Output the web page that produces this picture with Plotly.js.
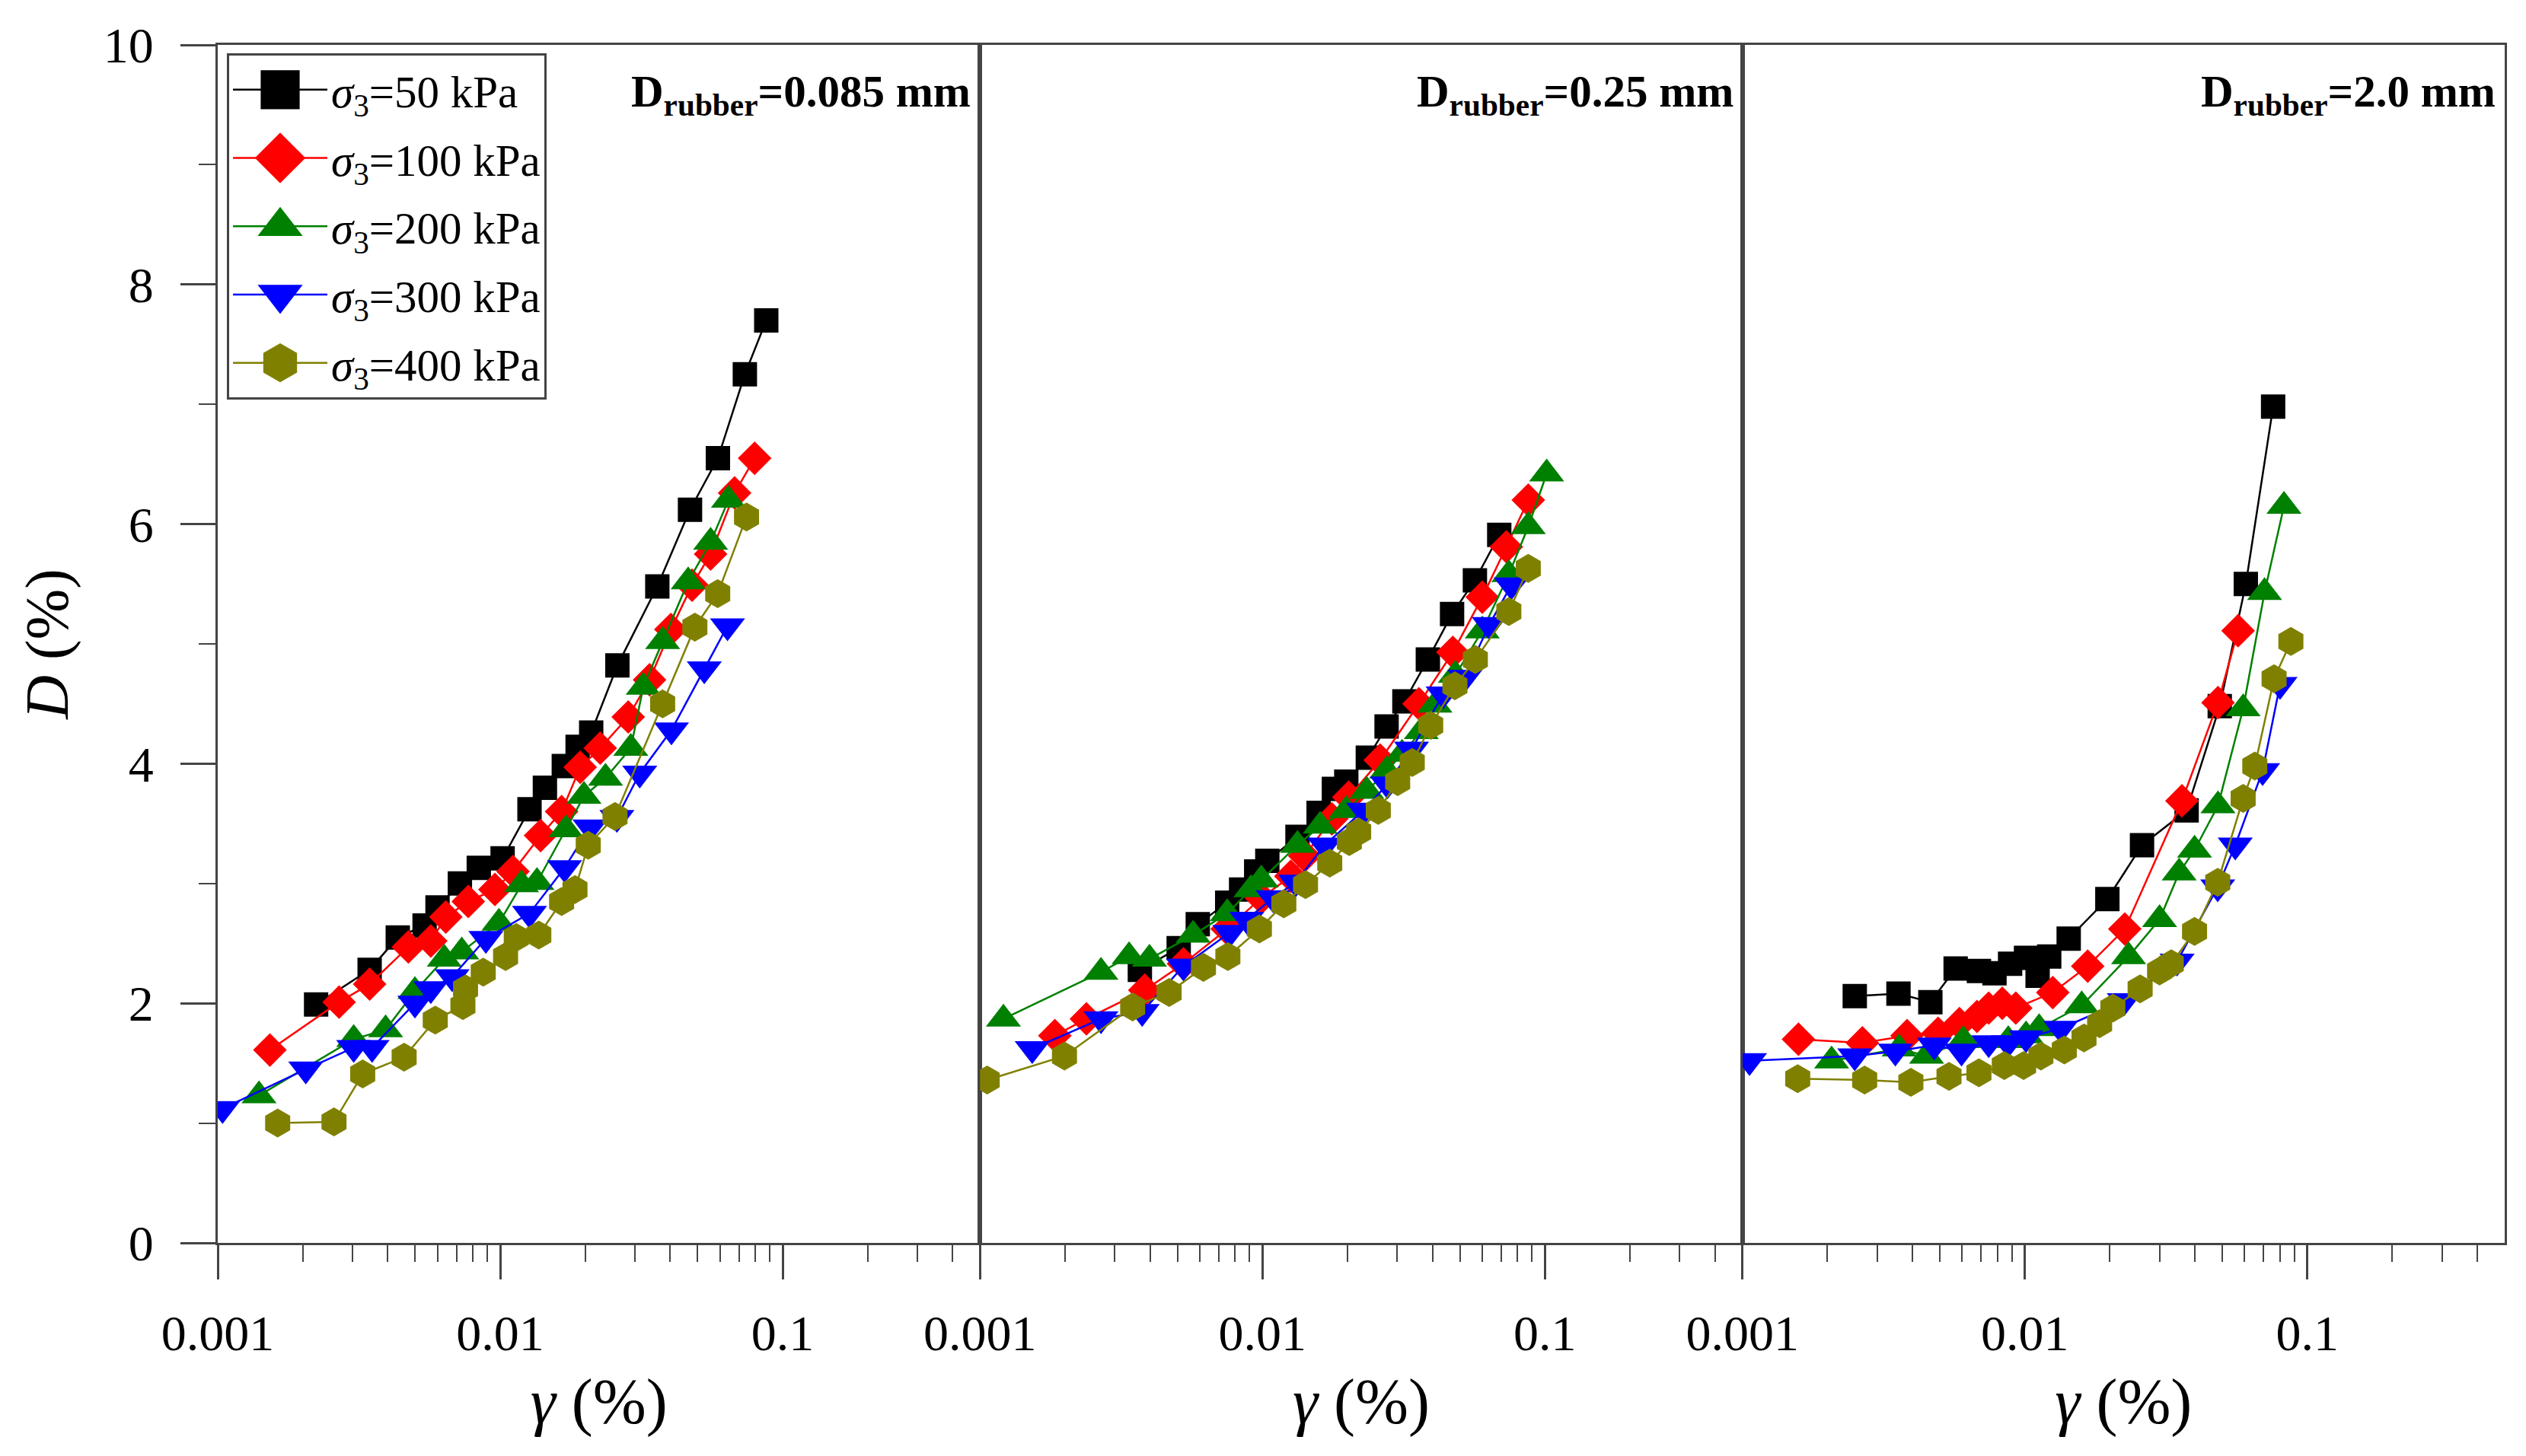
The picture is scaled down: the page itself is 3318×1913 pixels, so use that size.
<!DOCTYPE html>
<html>
<head>
<meta charset="utf-8">
<script src="https://cdn.plot.ly/plotly-3.0.1.min.js"></script>
<style>
  html, body { margin: 0; padding: 0; background: #fff; }
  #chart { width: 3318px; height: 1913px; }
</style>
</head>
<body>
<div id="chart"></div>
<script>
// ---- data: shear strain gamma (%) vs damping ratio D (%) ----
// panel A: D_rubber = 0.085 mm
var g50A  = [0.00223, 0.00345, 0.00434, 0.0054, 0.0060, 0.0072, 0.0084, 0.0102, 0.0127, 0.0144, 0.0168, 0.0188, 0.021, 0.026, 0.036, 0.047, 0.059, 0.0735, 0.0875];
var d50A  = [1.99, 2.28, 2.55, 2.65, 2.80, 3.00, 3.13, 3.21, 3.62, 3.80, 3.98, 4.14, 4.26, 4.82, 5.48, 6.12, 6.55, 7.25, 7.70];
var g100A = [0.00153, 0.00269, 0.00345, 0.00473, 0.00568, 0.00642, 0.00771, 0.00958, 0.0111, 0.0139, 0.0165, 0.0192, 0.0226, 0.0284, 0.0338, 0.0402, 0.0478, 0.0556, 0.0676, 0.0796];
var d100A = [1.61, 2.01, 2.16, 2.47, 2.52, 2.72, 2.85, 2.95, 3.10, 3.40, 3.60, 3.97, 4.13, 4.39, 4.70, 5.12, 5.49, 5.75, 6.26, 6.55];
var g200A = [0.0014, 0.00303, 0.00393, 0.00499, 0.00634, 0.00731, 0.0099, 0.0119, 0.0135, 0.0171, 0.0198, 0.0236, 0.029, 0.0321, 0.0376, 0.0463, 0.0556, 0.0643];
var d200A = [1.23, 1.70, 1.78, 2.10, 2.37, 2.43, 2.67, 2.99, 3.01, 3.45, 3.73, 3.88, 4.13, 4.64, 5.02, 5.52, 5.85, 6.20];
var g300A = [0.00104, 0.00205, 0.00303, 0.00352, 0.00499, 0.00568, 0.00676, 0.0089, 0.0127, 0.0169, 0.0208, 0.0259, 0.0312, 0.0404, 0.0528, 0.0638];
var d300A = [1.12, 1.45, 1.63, 1.63, 2.00, 2.12, 2.22, 2.54, 2.75, 3.13, 3.47, 3.55, 3.92, 4.28, 4.79, 5.15];
var g400A = [0.00163, 0.00258, 0.00326, 0.00457, 0.00589, 0.00738, 0.00754, 0.00871, 0.01045, 0.0114, 0.0137, 0.0165, 0.0184, 0.0205, 0.0255, 0.0376, 0.0489, 0.0589, 0.0745];
var d400A = [1.00, 1.01, 1.41, 1.55, 1.86, 1.98, 2.12, 2.26, 2.39, 2.55, 2.57, 2.85, 2.95, 3.32, 3.56, 4.50, 5.14, 5.42, 6.06];

// panel B: D_rubber = 0.25 mm
var g50B  = [0.00368, 0.00505, 0.0059, 0.0075, 0.0084, 0.0095, 0.0104, 0.0133, 0.0158, 0.0179, 0.0198, 0.0236, 0.0275, 0.0318, 0.0385, 0.0469, 0.0565, 0.0689];
var d50B  = [2.28, 2.46, 2.66, 2.84, 2.95, 3.10, 3.19, 3.39, 3.59, 3.79, 3.85, 4.05, 4.31, 4.52, 4.87, 5.25, 5.53, 5.91];
var g100B = [0.00184, 0.00238, 0.00383, 0.00525, 0.0075, 0.0099, 0.0126, 0.0141, 0.0176, 0.0202, 0.0261, 0.0358, 0.0472, 0.0600, 0.0730, 0.0873];
var d100B = [1.73, 1.87, 2.11, 2.33, 2.62, 2.88, 3.06, 3.23, 3.54, 3.72, 4.03, 4.50, 4.93, 5.39, 5.81, 6.20];
var g200B = [0.00121, 0.00268, 0.00337, 0.00398, 0.00568, 0.0075, 0.0091, 0.0099, 0.0133, 0.0160, 0.0198, 0.0234, 0.0275, 0.0312, 0.0365, 0.0408, 0.0482, 0.0600, 0.0745, 0.0873, 0.1014];
var d200B = [1.87, 2.26, 2.39, 2.37, 2.57, 2.75, 2.95, 3.03, 3.32, 3.48, 3.61, 3.77, 3.94, 4.08, 4.27, 4.49, 4.74, 5.11, 5.58, 5.98, 6.42];
var g300B = [0.00153, 0.00268, 0.00375, 0.00525, 0.00766, 0.0088, 0.0109, 0.0131, 0.0166, 0.0228, 0.0277, 0.0337, 0.0436, 0.0521, 0.0635, 0.0760];
var d300B = [1.62, 1.87, 1.93, 2.31, 2.59, 2.70, 2.88, 3.01, 3.32, 3.61, 3.83, 4.12, 4.58, 4.72, 5.16, 5.49];
var g400B = [0.00106, 0.00199, 0.00347, 0.00467, 0.00618, 0.00754, 0.00975, 0.0119, 0.0142, 0.0173, 0.0203, 0.0219, 0.0257, 0.0301, 0.0339, 0.0394, 0.0480, 0.0567, 0.0745, 0.0873];
var d400B = [1.36, 1.56, 1.97, 2.09, 2.30, 2.39, 2.62, 2.83, 2.99, 3.17, 3.35, 3.43, 3.61, 3.85, 4.01, 4.32, 4.65, 4.87, 5.27, 5.63];

// panel C: D_rubber = 2.0 mm
var g50C  = [0.0025, 0.00357, 0.00463, 0.00569, 0.00688, 0.00781, 0.00887, 0.0101, 0.0111, 0.0122, 0.0143, 0.0196, 0.0260, 0.0374, 0.0490, 0.0606, 0.0757];
var d50C  = [2.06, 2.08, 2.01, 2.29, 2.27, 2.25, 2.33, 2.38, 2.23, 2.39, 2.54, 2.87, 3.32, 3.61, 4.48, 5.50, 6.98];
var g100C = [0.00158, 0.00266, 0.00383, 0.00493, 0.00587, 0.00677, 0.00745, 0.00832, 0.00929, 0.01256, 0.0167, 0.0226, 0.0360, 0.0483, 0.0569];
var d100C = [1.70, 1.67, 1.73, 1.75, 1.83, 1.89, 1.96, 2.00, 1.96, 2.09, 2.31, 2.62, 3.69, 4.51, 5.11];
var g200C = [0.00207, 0.00359, 0.00449, 0.00606, 0.00874, 0.0101, 0.01124, 0.0159, 0.0233, 0.0300, 0.0352, 0.0399, 0.0483, 0.0593, 0.0706, 0.0827];
var d200C = [1.52, 1.62, 1.56, 1.69, 1.69, 1.73, 1.79, 1.98, 2.39, 2.70, 3.09, 3.28, 3.65, 4.46, 5.43, 6.15];
var g300C = [0.00106, 0.0025, 0.00348, 0.00478, 0.00597, 0.00745, 0.00873, 0.0101, 0.0134, 0.0225, 0.0346, 0.0482, 0.0556, 0.0695, 0.0801];
var d300C = [1.52, 1.56, 1.60, 1.65, 1.60, 1.67, 1.67, 1.71, 1.79, 2.02, 2.35, 2.97, 3.32, 3.94, 4.66];
var g400C = [0.00157, 0.00271, 0.00395, 0.00539, 0.00688, 0.00846, 0.0099, 0.0114, 0.0138, 0.0162, 0.0184, 0.0205, 0.0256, 0.0300, 0.0330, 0.0399, 0.0482, 0.0593, 0.0652, 0.0763, 0.0875];
var d400C = [1.37, 1.36, 1.34, 1.39, 1.42, 1.48, 1.48, 1.56, 1.61, 1.71, 1.83, 1.96, 2.12, 2.27, 2.33, 2.60, 3.01, 3.71, 3.98, 4.71, 5.02];

var pressures = ['50', '100', '200', '300', '400'];
var panelLabels = ['0.085', '0.25', '2.0'];
var xTickVals = [0.001, 0.01, 0.1];
var xTickText = ['0.001', '0.01', '0.1'];
var xMinorVals = [0.002, 0.003, 0.004, 0.005, 0.006, 0.007, 0.008, 0.009,
                  0.02, 0.03, 0.04, 0.05, 0.06, 0.07, 0.08, 0.09,
                  0.2, 0.3, 0.4];

var panels = [
  { g: [g50A, g100A, g200A, g300A, g400A], d: [d50A, d100A, d200A, d300A, d400A] },
  { g: [g50B, g100B, g200B, g300B, g400B], d: [d50B, d100B, d200B, d300B, d400B] },
  { g: [g50C, g100C, g200C, g300C, g400C], d: [d50C, d100C, d200C, d300C, d400C] }
];

// ---- style ----
var FONT = 'Liberation Serif, Times New Roman, serif';
var AXIS_COLOR = '#444';
var colors  = ['#000000', '#ff0000', '#008000', '#0000ff', '#808000'];
var symbols = ['square', 'diamond', 'triangle-up', 'triangle-down', 'hexagon'];
var sizes   = [32, 34, 40, 40, 38];
var LEGEND_SYMBOL_W = 124;

function xAxis(domain, anchor) {
  return {
    type: 'log',
    domain: domain,
    anchor: anchor,
    range: [-3, Math.log10(0.5)],
    tickmode: 'array',
    tickvals: xTickVals,
    ticktext: xTickText,
    ticks: 'outside',
    ticklen: 45,
    tickwidth: 3,
    tickcolor: AXIS_COLOR,
    ticklabelstandoff: 14,
    minor: { tickmode: 'array', tickvals: xMinorVals, ticks: 'outside', ticklen: 22, tickwidth: 2, tickcolor: AXIS_COLOR },
    showline: true,
    mirror: true,
    linecolor: AXIS_COLOR,
    linewidth: 3,
    showgrid: false,
    zeroline: false,
    tickfont: { family: FONT, size: 66, color: '#000' },
    title: { text: '<i>γ</i> (%)', font: { family: FONT, size: 84, color: '#000' }, standoff: 24 }
  };
}

function yAxis(anchor, first) {
  var ax = {
    anchor: anchor,
    range: [0, 10],
    showline: true,
    mirror: true,
    linecolor: AXIS_COLOR,
    linewidth: 3,
    showgrid: false,
    zeroline: false
  };
  if (first) {
    ax.tickmode = 'linear';
    ax.tick0 = 0;
    ax.dtick = 2;
    ax.ticks = 'outside';
    ax.ticklen = 46;
    ax.tickwidth = 3;
    ax.tickcolor = AXIS_COLOR;
    ax.ticklabelstandoff = 22;
    ax.minor = { dtick: 1, ticks: 'outside', ticklen: 22, tickwidth: 2, tickcolor: AXIS_COLOR };
    ax.tickfont = { family: FONT, size: 66, color: '#000' };
    ax.title = { text: '<i>D</i> (%)', font: { family: FONT, size: 80, color: '#000' }, standoff: 20 };
  } else {
    ax.matches = 'y';
    ax.showticklabels = false;
    ax.ticks = '';
  }
  return ax;
}

var traces = [];
panels.forEach(function (panel, p) {
  var suffix = p === 0 ? '' : String(p + 1);
  pressures.forEach(function (pr, i) {
    traces.push({
      x: panel.g[i],
      y: panel.d[i],
      xaxis: 'x' + suffix,
      yaxis: 'y' + suffix,
      type: 'scatter',
      mode: 'lines+markers',
      name: '<i>σ</i><sub>3</sub>=' + pr + ' kPa',
      legendgroup: pr,
      showlegend: p === 0,
      line: { color: colors[i], width: 2.5 },
      marker: { symbol: symbols[i], size: sizes[i], color: colors[i], line: { width: 0 } }
    });
  });
});

var annotations = panelLabels.map(function (lab, p) {
  var suffix = p === 0 ? '' : String(p + 1);
  return {
    xref: 'x' + suffix + ' domain',
    yref: 'paper',
    x: 0.99,
    y: 0.959,
    xanchor: 'right',
    yanchor: 'middle',
    showarrow: false,
    text: '<b>D<sub>rubber</sub>=' + lab + ' mm</b>',
    font: { family: FONT, size: 59, color: '#000' }
  };
});

var layout = {
  width: 3318,
  height: 1913,
  paper_bgcolor: '#ffffff',
  plot_bgcolor: '#ffffff',
  margin: { l: 286, r: 28, t: 59, b: 280 },
  font: { family: FONT, color: '#000' },
  showlegend: true,
  legend: {
    x: 0.004,
    y: 0.993,
    xanchor: 'left',
    yanchor: 'top',
    bgcolor: '#ffffff',
    bordercolor: AXIS_COLOR,
    borderwidth: 3,
    itemwidth: LEGEND_SYMBOL_W,
    font: { family: FONT, size: 59, color: '#000' }
  },
  xaxis: xAxis([0, 1 / 3], 'y'),
  xaxis2: xAxis([1 / 3, 2 / 3], 'y2'),
  xaxis3: xAxis([2 / 3, 1], 'y3'),
  yaxis: yAxis('x', true),
  yaxis2: yAxis('x2', false),
  yaxis3: yAxis('x3', false),
  annotations: annotations
};

Plotly.newPlot('chart', traces, layout, { staticPlot: true }).then(function (gd) {
  // legend symbols in the figure are larger than plotly's capped legend markers
  gd.querySelectorAll('.legend .traces').forEach(function (item) {
    var line = item.querySelector('.legendlines path');
    if (line) line.setAttribute('d', 'M5,0h' + LEGEND_SYMBOL_W);
    item.querySelectorAll('.legendpoints path').forEach(function (pt) {
      pt.setAttribute('transform', 'translate(' + (5 + LEGEND_SYMBOL_W / 2) + ',0) scale(3.2)');
    });
  });
});
</script>
</body>
</html>
